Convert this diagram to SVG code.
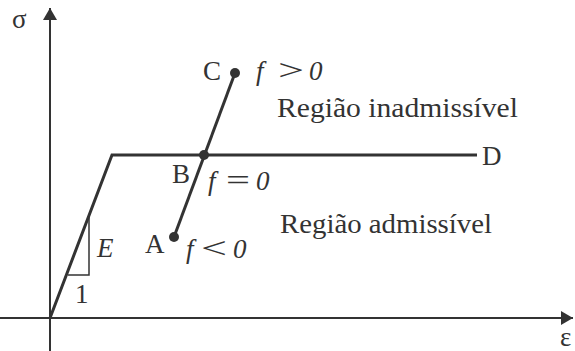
<svg xmlns="http://www.w3.org/2000/svg" width="575" height="351" viewBox="0 0 575 351">
<style>
text{font-family:"Liberation Serif","Times New Roman",serif;fill:#333;font-size:27px}
.it{font-style:italic;font-size:27px}
.op{font-size:30px}
.reg{font-size:28px}
.axis{stroke:#333;stroke-width:2;fill:none}
.curve{stroke:#333;stroke-width:3;fill:none}
.thin{stroke:#333;stroke-width:1.5;fill:none}
</style>
<defs>
<marker id="arr" markerWidth="12" markerHeight="14" refX="12" refY="7" orient="auto" markerUnits="userSpaceOnUse">
<path d="M0,0 L12,7 L0,14 Z" fill="#333"/>
</marker>
</defs>
<g id="connectors">
<line class="axis" x1="50" y1="351" x2="50" y2="8" marker-end="url(#arr)"/>
<line class="axis" x1="0" y1="318" x2="573" y2="318" marker-end="url(#arr)"/>
<polyline class="curve" points="50,318 112,155 477,155"/>
<line class="curve" x1="174" y1="237" x2="235" y2="73"/>
<polyline class="thin" points="89,216 89,275 68,275"/>
</g>
<g id="axis-sigma"><text x="12" y="28">σ</text></g>
<g id="axis-epsilon"><text x="560" y="346">ε</text></g>
<g id="node-A">
<circle cx="174" cy="237" r="5" fill="#333"/>
<text x="145" y="253">A</text>
<text class="it" x="186" y="258">f</text>
<text class="op" x="201" y="258" textLength="26" lengthAdjust="spacingAndGlyphs">&lt;</text>
<text class="it" x="233" y="258">0</text>
</g>
<g id="node-B">
<circle cx="204" cy="155" r="5" fill="#333"/>
<text x="172" y="183">B</text>
<text class="it" x="208" y="190">f</text>
<text class="op" x="226" y="190" textLength="24" lengthAdjust="spacingAndGlyphs">=</text>
<text class="it" x="256" y="190">0</text>
</g>
<g id="node-C">
<circle cx="235" cy="73" r="5" fill="#333"/>
<text x="203" y="80">C</text>
<text class="it" x="256" y="80">f</text>
<text class="op" x="278" y="80" textLength="26" lengthAdjust="spacingAndGlyphs">&gt;</text>
<text class="it" x="309" y="80">0</text>
</g>
<g id="node-D"><text x="482" y="165">D</text></g>
<g id="label-E"><text class="it" x="97" y="257">E</text></g>
<g id="label-1"><text x="75" y="303">1</text></g>
<g id="region-inadmissivel"><text class="reg" x="277" y="117" textLength="241" lengthAdjust="spacingAndGlyphs">Região inadmissível</text></g>
<g id="region-admissivel"><text class="reg" x="280" y="233" textLength="212" lengthAdjust="spacingAndGlyphs">Região admissível</text></g>
</svg>
